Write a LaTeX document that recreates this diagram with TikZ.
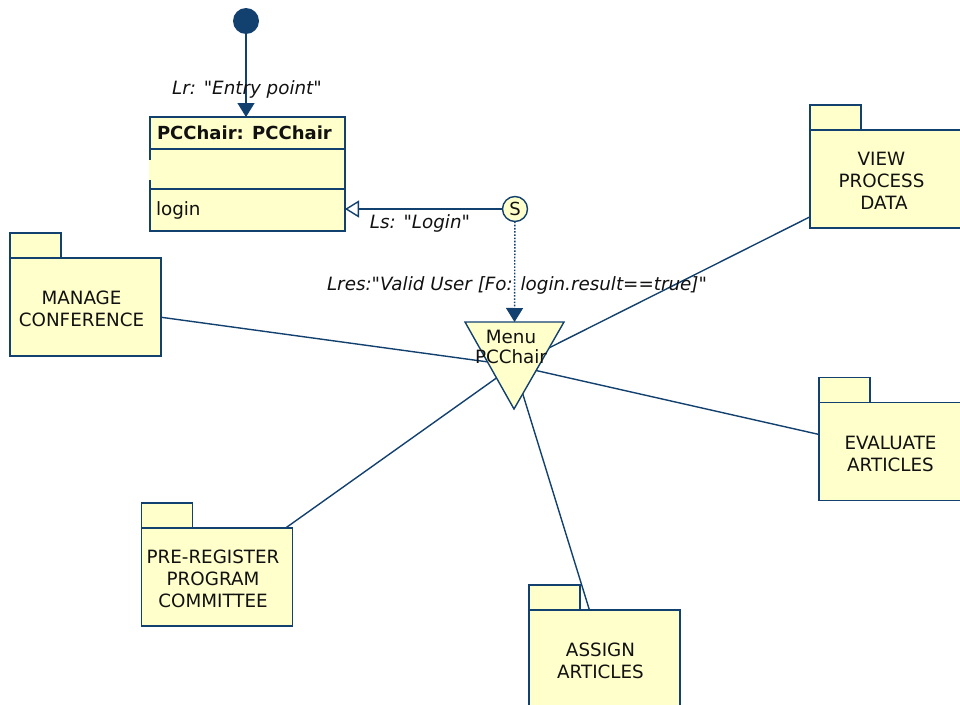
\documentclass[tikz,border=0pt]{standalone}
\usepackage{fontspec}
\setmainfont{DejaVu Sans}[Ligatures=TeXOff]
\usetikzlibrary{arrows.meta,calc}
\definecolor{umlline}{HTML}{12406F}
\definecolor{umlfill}{HTML}{FFFFCC}
\definecolor{umltext}{HTML}{111111}

\begin{document}
\begin{tikzpicture}[x=1pt,y=-1pt,
  every node/.style={outer sep=0pt},
  edge/.style={draw=umlline, line width=1.4pt},
  folder/.style={draw=umlline, fill=umlfill, line width=1.4pt,
    minimum width=151pt, minimum height=98pt, inner sep=0pt,
    label={[flabel]center:#1}},
  flabel/.style={align=center, font=\fontsize{18.3}{22}\selectfont,
    text=umltext, xshift=-4pt, yshift=-2pt},
  foldertab/.style={draw=umlline, fill=umlfill, line width=1.4pt},
  lbl/.style={font=\fontsize{18.3}{22}\selectfont\itshape, text=umltext, inner sep=0pt},
  plain/.style={font=\fontsize{18.3}{22}\selectfont, text=umltext, inner sep=0pt},
  solidtip/.style={-{Triangle[width=17pt,length=14pt]}},
  opentip/.style={-{Triangle[open,fill=white,width=17pt,length=14pt]}}
]
\useasboundingbox (0,0) rectangle (960,704);
\clip (0,0) rectangle (960,704);

% ---- package folders (body nodes; tabs drawn on the top-left corner)
\node[folder={MANAGE\\CONFERENCE}] (mc) at (85.5,307) {};
\node[folder={VIEW\\PROCESS\\\hspace*{5pt}DATA}] (view) at (885.5,179) {};
\node[folder={EVALUATE\\ARTICLES}] (eval) at (894.5,451.5) {};
\node[folder={PRE-REGISTER\\PROGRAM\\COMMITTEE}] (prereg) at (217,577) {};
\node[folder={ASSIGN\\ARTICLES}] (assign) at (604.5,659) {};
\foreach \f in {mc,view,eval,prereg,assign}
  \draw[foldertab] (\f.north west) rectangle ++(51,-25);

% ---- menu: connectors first, the triangle covers their inner ends
\coordinate (menuc) at (514,365.5);
\coordinate (menutop) at (514.5,322);
\foreach \f in {mc,view,eval,prereg,assign}
  \draw[edge] (\f) -- (menuc);
\path[draw=umlline, fill=umlfill, line width=1.4pt, line join=miter]
  (465,322) -- (564,322) -- (514,409) -- cycle;
\node[plain, align=center, font=\fontsize{18.3}{20}\selectfont] (menu) at (511,347) {Menu\\PCChair};

% ---- class box
\node[draw=umlline, fill=umlfill, line width=1.4pt, minimum width=195pt,
  minimum height=114pt, inner sep=0pt] (cls) at (247.5,174) {};
\draw[umlfill, line width=1.6pt] (150,160) -- (150,180);
\draw[edge] ($(cls.north west)+(0,32)$) -- ($(cls.north east)+(0,32)$);
\draw[edge] ($(cls.north west)+(0,72)$) -- ($(cls.north east)+(0,72)$);
\node[plain, anchor=west, font=\fontsize{18}{22}\selectfont\bfseries] (clsname) at (157,133) {PCChair: PCChair};
\node[plain, anchor=west] (clsop) at (156,210) {login};

% ---- initial state and entry transition
\node[circle, fill=umlline, minimum size=26pt, inner sep=0pt] (init) at (246,21) {};
\draw[edge, solidtip] (init) -- (init |- cls.north);
\node[lbl] (lr) at (247,89) {Lr: "Entry point"};

% ---- signal node
\node[circle, draw=umlline, fill=umlfill, line width=1.4pt, minimum size=25pt,
  inner sep=0pt, font=\fontsize{18}{22}\selectfont, text=umltext] (sig) at (515,209) {S};
\draw[edge, opentip] (sig) -- (sig -| cls.east);
\node[lbl] (ls) at (420,223) {Ls: "Login"};
\draw[edge, dash pattern=on 1.6pt off 1.6pt, solidtip] (sig) -- (menutop);
\node[lbl] (lres) at (517,285) {Lres:"Valid User [Fo: login.result==true]"};
\end{tikzpicture}
\end{document}
